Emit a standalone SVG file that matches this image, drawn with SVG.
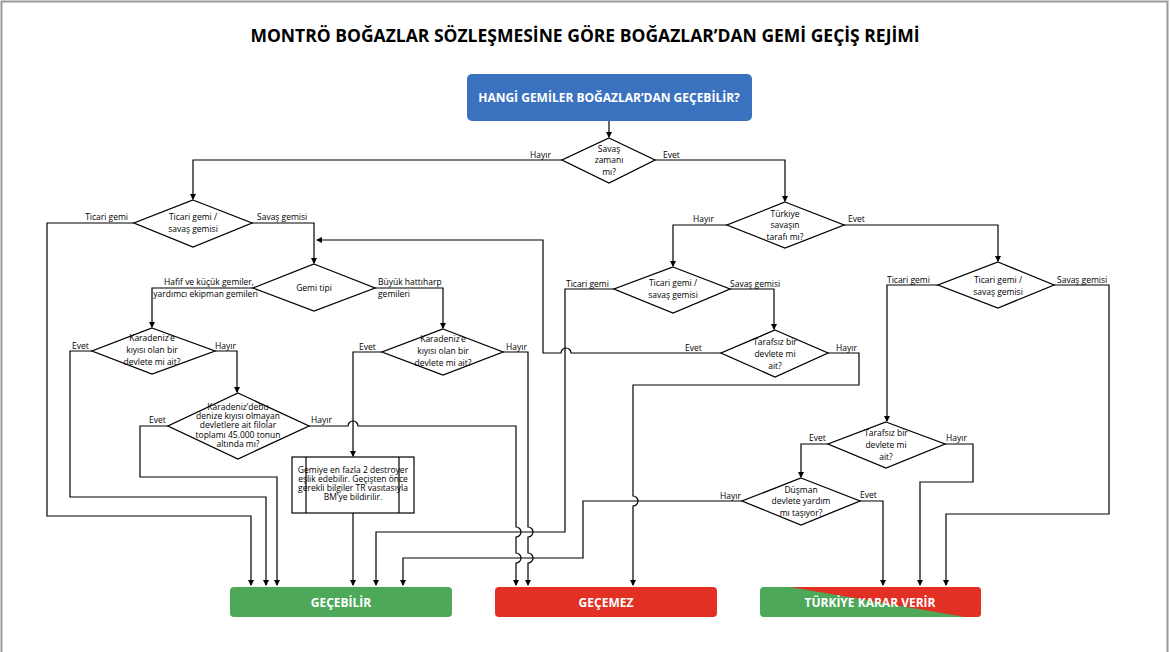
<svg xmlns="http://www.w3.org/2000/svg" width="1170" height="652" viewBox="0 0 1170 652">
<defs>
<marker id="ar" viewBox="0 0 6 6" refX="5" refY="3" markerWidth="5" markerHeight="5" orient="auto"><path d="M0,0L6,3L0,6z" fill="#000"/></marker>
<clipPath id="tk"><rect x="760" y="587" width="221" height="30" rx="4"/></clipPath>
</defs>
<style>
.d{fill:#fff;stroke:#000;stroke-width:1.3}
.c{fill:none;stroke:#000;stroke-width:1.2;marker-end:url(#ar)}
.n{fill:none;stroke:#000;stroke-width:1.2}
text{font-family:"Open Sans","Liberation Sans",sans-serif}
.t{font-size:8.5px;text-anchor:middle}
.l{font-size:8.5px}
.b{font-size:12px;font-weight:bold;fill:#fff;text-anchor:middle}
</style>
<rect x="0" y="0" width="1170" height="652" fill="#fff"/>
<rect x="1.5" y="1.5" width="1166" height="652" fill="none" stroke="#999" stroke-width="2"/>
<text x="585" y="42" font-size="17.5" font-weight="bold" text-anchor="middle">MONTRÖ BOĞAZLAR SÖZLEŞMESİNE GÖRE BOĞAZLAR’DAN GEMİ GEÇİŞ REJİMİ</text>

<g id="connectors">
<path class="c" d="M609,121V137"/>
<path class="c" d="M562,160H193V199"/>
<path class="c" d="M655,160H785V201"/>
<path class="c" d="M134,223H47V516H251V585"/>
<path class="c" d="M252,223H314V263"/>
<path class="c" d="M721,353H571A5,5 0 0 0 561,353H543V240H317"/>
<path class="c" d="M253,288H152V327"/>
<path class="c" d="M375,288H443V328"/>
<path class="c" d="M92,351H70V497H266V585"/>
<path class="c" d="M215,351H237V392"/>
<path class="c" d="M168,426H140V477H277V585"/>
<path class="c" d="M309,426H348A5,5 0 0 1 358,426H516V527A5,5 0 0 1 516,537V553A5,5 0 0 1 516,563V585"/>
<path class="c" d="M382,352H353V456"/>
<path class="c" d="M503,352H528V527A5,5 0 0 1 528,537V553A5,5 0 0 1 528,563V585"/>
<path class="c" d="M353,513V585"/>
<path class="c" d="M727,225H673V266"/>
<path class="c" d="M844,225H998V261"/>
<path class="c" d="M614,289H565V532H376V585"/>
<path class="c" d="M730,289H774V329"/>
<path class="c" d="M828,353H859V385H633V496A5,5 0 0 1 633,506V585"/>
<path class="c" d="M938,285H887V421"/>
<path class="c" d="M1054,285H1109V514H946V585"/>
<path class="c" d="M828,444H801V477"/>
<path class="c" d="M945,444H973V482H920V585"/>
<path class="c" d="M742,501H583V558H403V585"/>
<path class="c" d="M860,501H883V585"/>
</g>

<g id="start"><rect x="467" y="74" width="285" height="47" rx="5" fill="#3b72c0"/><text class="b" x="609" y="102">HANGİ GEMİLER BOĞAZLAR’DAN GEÇEBİLİR?</text></g>

<g id="d1"><polygon class="d" points="609,138 655,160 609,183 562,160"/><text class="t" x="609" y="152">Savaş</text><text class="t" x="609" y="163">zamanı</text><text class="t" x="609" y="175">mı?</text>
<text class="l" x="530" y="158">Hayır</text><text class="l" x="663" y="158">Evet</text></g>

<g id="d2"><polygon class="d" points="193,200 252,223 193,247 134,223"/><text class="t" x="193" y="220">Ticari gemi /</text><text class="t" x="193" y="232">savaş gemisi</text>
<text class="l" x="128" y="220" text-anchor="end">Ticari gemi</text><text class="l" x="257" y="220">Savaş gemisi</text></g>

<g id="d4"><polygon class="d" points="314,264 375,288 314,311 253,288"/><text class="t" x="314" y="291">Gemi tipi</text>
<text class="l" x="254" y="285" text-anchor="end">Hafif ve küçük gemiler,</text><text class="l" x="258" y="297" text-anchor="end">yardımcı ekipman gemileri</text>
<text class="l" x="378" y="285">Büyük hattıharp</text><text class="l" x="378" y="297">gemileri</text></g>

<g id="d5"><polygon class="d" points="152,328 215,351 152,374 92,351"/><text class="t" x="152" y="341">Karadeniz’e</text><text class="t" x="152" y="353">kıyısı olan bir</text><text class="t" x="152" y="365">devlete mi ait?</text>
<text class="l" x="72" y="349">Evet</text><text class="l" x="215" y="349">Hayır</text></g>

<g id="d6"><polygon class="d" points="443,329 503,352 443,375 382,352"/><text class="t" x="443" y="342">Karadeniz’e</text><text class="t" x="443" y="354">kıyısı olan bir</text><text class="t" x="443" y="366">devlete mi ait?</text>
<text class="l" x="359" y="350">Evet</text><text class="l" x="506" y="350">Hayır</text></g>

<g id="d7"><polygon class="d" points="238,393 309,426 238,459 168,426"/>
<text class="t" x="238" y="410" font-size="7">Karadeniz’debu</text><text class="t" x="238" y="419" font-size="7">denize kıyısı olmayan</text><text class="t" x="238" y="428" font-size="7">devletlere ait filolar</text><text class="t" x="238" y="438" font-size="7">toplamı 45.000 tonun</text><text class="t" x="238" y="447" font-size="7">altında mı?</text>
<text class="l" x="149" y="423">Evet</text><text class="l" x="311" y="423">Hayır</text></g>

<g id="proc"><rect x="292" y="457" width="122" height="56" fill="#fff" stroke="#000" stroke-width="1.2"/><path class="n" d="M306,457V513M399,457V513"/>
<text class="t" x="353" y="473" font-size="7">Gemiye en fazla 2 destroyer</text><text class="t" x="353" y="482" font-size="7">eşlik edebilir. Geçişten önce</text><text class="t" x="353" y="491" font-size="7">gerekli bilgiler TR vasıtasıyla</text><text class="t" x="353" y="500" font-size="7">BM’ye bildirilir.</text></g>

<g id="d3"><polygon class="d" points="785,202 844,225 785,248 727,225"/><text class="t" x="785" y="217">Türkiye</text><text class="t" x="785" y="228">savaşın</text><text class="t" x="785" y="240">tarafı mı?</text>
<text class="l" x="693" y="222">Hayır</text><text class="l" x="848" y="222">Evet</text></g>

<g id="d9"><polygon class="d" points="673,267 730,289 673,313 614,289"/><text class="t" x="673" y="286">Ticari gemi /</text><text class="t" x="673" y="298">savaş gemisi</text>
<text class="l" x="566" y="287">Ticari gemi</text><text class="l" x="730" y="287">Savaş gemisi</text></g>

<g id="d8"><polygon class="d" points="775,330 828,353 775,377 721,353"/><text class="t" x="775" y="345">Tarafsız bir</text><text class="t" x="775" y="357">devlete mi</text><text class="t" x="775" y="369">ait?</text>
<text class="l" x="685" y="351">Evet</text><text class="l" x="836" y="351">Hayır</text></g>

<g id="d10"><polygon class="d" points="998,262 1054,285 998,308 938,285"/><text class="t" x="998" y="283">Ticari gemi /</text><text class="t" x="998" y="295">savaş gemisi</text>
<text class="l" x="887" y="283">Ticari gemi</text><text class="l" x="1057" y="283">Savaş gemisi</text></g>

<g id="d11"><polygon class="d" points="886,422 945,444 886,468 828,444"/><text class="t" x="886" y="436">Tarafsız bir</text><text class="t" x="886" y="448">devlete mi</text><text class="t" x="886" y="460">ait?</text>
<text class="l" x="809" y="441">Evet</text><text class="l" x="946" y="441">Hayır</text></g>

<g id="d12"><polygon class="d" points="801,478 860,501 801,525 742,501"/><text class="t" x="801" y="493">Düşman</text><text class="t" x="801" y="504">devlete yardım</text><text class="t" x="801" y="516">mı taşıyor?</text>
<text class="l" x="720" y="499">Hayır</text><text class="l" x="860" y="498">Evet</text></g>

<g id="gecebilir"><rect x="230" y="587" width="222" height="30" rx="4" fill="#4ea85a"/><text class="b" x="341" y="607">GEÇEBİLİR</text></g>
<g id="gecemez"><rect x="495" y="587" width="222" height="30" rx="4" fill="#e33025"/><text class="b" x="606" y="607">GEÇEMEZ</text></g>
<g id="turkiye"><g clip-path="url(#tk)"><rect x="760" y="587" width="221" height="30" fill="#4ea85a"/><polygon points="790,587 981,587 981,617 965,617" fill="#e33025"/></g><text class="b" x="870" y="607">TÜRKİYE KARAR VERİR</text></g>
</svg>
